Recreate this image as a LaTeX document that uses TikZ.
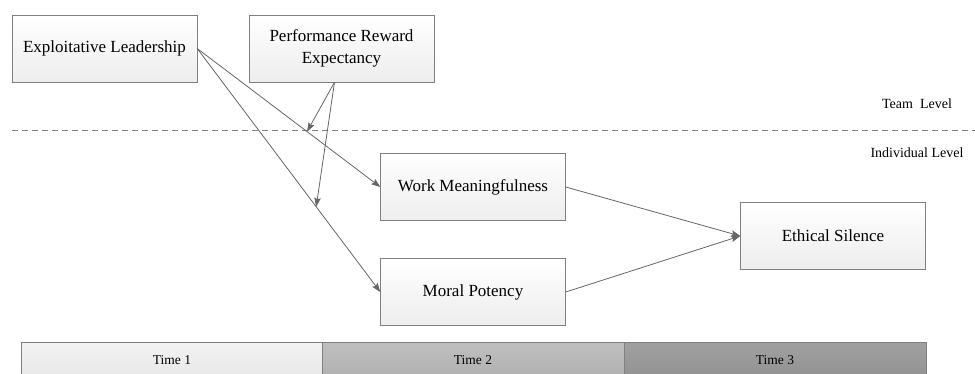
\documentclass[tikz,border=0pt]{standalone}
\usepackage{fontspec}
\setmainfont{Liberation Serif}
\usetikzlibrary{arrows.meta}

\definecolor{linegray}{HTML}{666666}
\definecolor{boxgray}{HTML}{808080}

\tikzset{
	varbox/.style={draw=boxgray, top color=white, bottom color=black!7,
		minimum width=185pt, minimum height=67pt, align=center,
		font=\fontsize{17}{22}\selectfont, inner sep=0pt},
	timebox/.style={draw=boxgray, minimum width=302pt, minimum height=36pt,
		font=\fontsize{13.5}{16}\selectfont, inner sep=0pt},
	path/.style={draw=linegray, line width=0.8pt, -{Stealth[length=9pt,width=6.5pt,inset=1.5pt]}},
	levellabel/.style={font=\fontsize{14}{16}\selectfont, inner sep=0pt}
}

\begin{document}
\begin{tikzpicture}[x=1pt, y=-1pt]
	\useasboundingbox (0,0) rectangle (975,374);

	% levels
	\draw[dashed, draw=boxgray, line width=0.8pt, dash pattern=on 6pt off 4pt] (12,130) -- (975,130);
	\node[levellabel] (team) at (917,104) {Team\ \ Level};
	\node[levellabel] (indiv) at (917,153) {Individual Level};

	% variables
	\node[varbox] (el) at (104.5,48.5) {Exploitative Leadership};
	\node[varbox] (pre) at (341.5,48.5) {Performance Reward\\Expectancy};
	\node[varbox] (wm) at (473,187) {Work Meaningfulness};
	\node[varbox] (mp) at (473,292) {Moral Potency};
	\node[varbox] (es) at (833,236) {Ethical Silence};

	% time line
	\node[timebox, top color=black!5, bottom color=black!9] (t1) at (172,360) {Time 1};
	\node[timebox, top color=black!25, bottom color=black!31] (t2) at (473,360) {Time 2};
	\node[timebox, top color=black!37, bottom color=black!43] (t3) at (775,360) {Time 3};

	% main paths
	\path (el.east) -- (wm.west) coordinate[pos=0.6] (m1);
	\path (el.east) -- (mp.west) coordinate[pos=0.65] (m2);
	\draw[path] (el.east) -- (wm.west);
	\draw[path] (el.east) -- (mp.west);
	\draw[path] (wm.east) -- (es.west);
	\draw[path] (mp.east) -- (es.west);

	% moderation
	\draw[path] ([xshift=-7pt]pre.south) -- (m1);
	\draw[path] ([xshift=-7pt]pre.south) -- (m2);

\end{tikzpicture}
\end{document}
